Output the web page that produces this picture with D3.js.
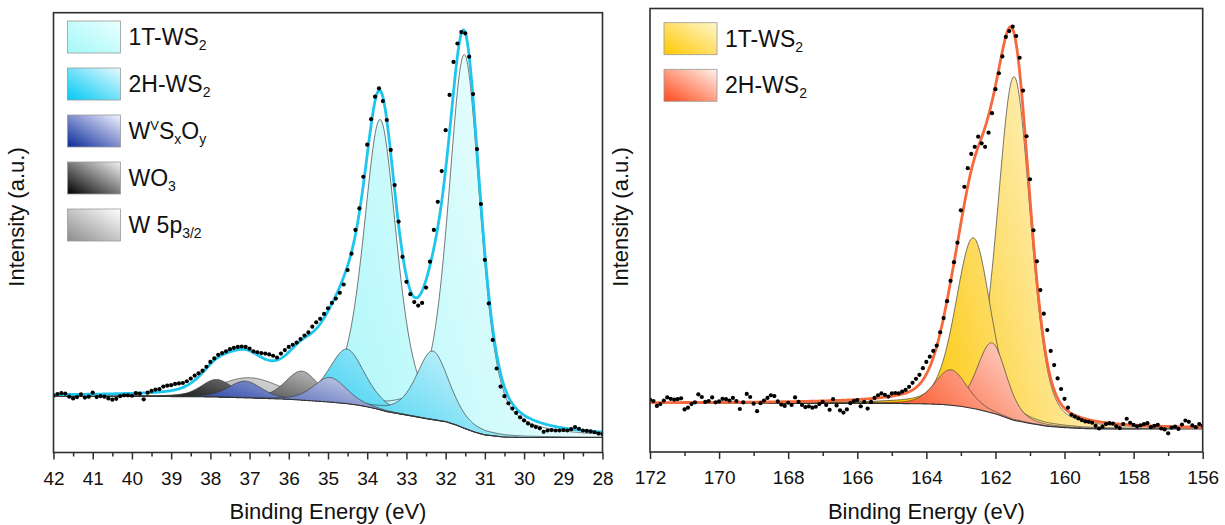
<!DOCTYPE html>
<html><head><meta charset="utf-8">
<script src="https://cdn.jsdelivr.net/npm/d3@7"></script>
<style>
body{margin:0;background:#fff}
svg{display:block}
text{font-family:"Liberation Sans",Arial,Helvetica,sans-serif;fill:#111}
</style>
</head><body>
<svg id="chart" width="1225" height="525"></svg>
<script>
// ---------------- W 4f panel (left) ----------------
const leftEnergy = [42.0,41.9,41.8,41.7,41.6,41.5,41.4,41.3,41.2,41.1,41.0,40.9,40.8,40.7,40.6,40.5,40.4,40.3,40.2,40.1,
40.0,39.9,39.8,39.7,39.6,39.5,39.4,39.3,39.2,39.1,39.0,38.9,38.8,38.7,38.6,38.5,38.4,38.3,38.2,38.1,
38.0,37.9,37.8,37.7,37.6,37.5,37.4,37.3,37.2,37.1,37.0,36.9,36.8,36.7,36.6,36.5,36.4,36.3,36.2,36.1,
36.0,35.9,35.8,35.7,35.6,35.5,35.4,35.3,35.2,35.1,35.0,34.9,34.8,34.7,34.6,34.5,34.4,34.3,34.2,34.1,
34.0,33.9,33.8,33.7,33.6,33.5,33.4,33.3,33.2,33.1,33.0,32.9,32.8,32.7,32.6,32.5,32.4,32.3,32.2,32.1,
32.0,31.9,31.8,31.7,31.6,31.5,31.4,31.3,31.2,31.1,31.0,30.9,30.8,30.7,30.6,30.5,30.4,30.3,30.2,30.1,
30.0,29.9,29.8,29.7,29.6,29.5,29.4,29.3,29.2,29.1,29.0,28.9,28.8,28.7,28.6,28.5,28.4,28.3,28.2,28.1,28.0];
const leftCounts = [12.9,13.3,13.5,13.4,12.7,12.3,12.6,13.2,12.5,12.7,
13.6,12.6,12.8,12.7,12.3,12.0,12.2,12.8,13.0,13.0,
12.9,13.5,13.4,12.1,13.6,14.0,14.3,14.4,15.0,15.2,
15.3,15.6,15.7,15.8,16.2,16.8,17.5,18.0,18.6,19.5,
20.6,21.4,22.2,22.6,23.0,23.5,23.8,24.0,24.1,24.0,
23.6,23.0,22.8,22.6,22.5,22.3,22.0,21.6,22.5,23.3,
24.0,24.5,25.0,25.8,26.6,27.3,28.6,29.6,30.4,31.5,
32.8,34.0,35.0,36.3,38.2,41.5,45.2,50.6,55.5,62.7,
70.0,75.8,80.9,82.8,79.9,75.6,68.8,60.8,52.5,44.5,
38.8,36.0,34.2,33.4,34.0,37.5,43.4,50.6,57.0,64.0,
73.3,81.3,88.8,93.0,95.6,95.3,90.0,81.5,69.0,56.5,
43.8,33.9,25.6,19.1,15.0,12.8,11.2,10.0,9.0,8.0,
7.3,6.6,6.1,5.8,5.5,4.7,5.0,5.1,5.0,5.0,
5.1,5.0,5.3,5.8,5.4,5.0,4.9,4.8,4.6,4.3,4.2];
const leftBgEnergy = [42,40,38,37,36,35.5,35,34.5,34.25,34,33.75,33.5,33,32.5,32,31.75,31.5,31.25,31,30.5,30,28];
const leftBgLevel  = [12.8,12.78,12.65,12.4,12.1,11.8,11.5,11.1,10.8,10.4,9.9,9.3,8.5,7.7,7.0,6.3,5.4,4.6,4.0,3.5,3.4,3.4];
const leftSeries = ["1T-WS2","2H-WS2","WVSxOy","WO3","W 5p3/2"];
const leftCenters = [[33.67,31.52],[34.52,32.33],[37.12,34.95],[37.84,35.67],[37.0]];
const leftHeights = [[66.0,85.0],[12.4,15.6],[3.8,5.6],[4.0,6.6],[4.6]];
const leftFwhm    = [[1.0,0.97],[1.1,1.0],[1.0,1.0],[0.95,1.0],[1.9]];
const leftEta     = [0.5,0.5,0.35,0.35,0.2];
const leftTicks = [42,41,40,39,38,37,36,35,34,33,32,31,30,29,28];
const leftMinor = [41.5,40.5,39.5,38.5,37.5,36.5,35.5,34.5,33.5,32.5,31.5,30.5,29.5,28.5];

// ---------------- S 2p panel (right) ----------------
const rightEnergy = [172.0,171.9,171.8,171.7,171.6,171.5,171.4,171.3,171.2,171.1,
171.0,170.9,170.8,170.7,170.6,170.5,170.4,170.3,170.2,170.1,
170.0,169.9,169.8,169.7,169.6,169.5,169.4,169.3,169.2,169.1,
169.0,168.9,168.8,168.7,168.6,168.5,168.4,168.3,168.2,168.1,
168.0,167.9,167.8,167.7,167.6,167.5,167.4,167.3,167.2,167.1,
167.0,166.9,166.8,166.7,166.6,166.5,166.4,166.3,166.2,166.1,
166.0,165.9,165.8,165.7,165.6,165.5,165.4,165.3,165.2,165.1,
165.0,164.9,164.8,164.7,164.6,164.5,164.4,164.3,164.2,164.1,
164.0,163.9,163.8,163.7,163.6,163.5,163.4,163.3,163.2,163.1,
163.0,162.9,162.8,162.7,162.6,162.5,162.4,162.3,162.2,162.1,
162.0,161.9,161.8,161.7,161.6,161.5,161.4,161.3,161.2,161.1,
161.0,160.9,160.8,160.7,160.6,160.5,160.4,160.3,160.2,160.1,
160.0,159.9,159.8,159.7,159.6,159.5,159.4,159.3,159.2,159.1,
159.0,158.9,158.8,158.7,158.6,158.5,158.4,158.3,158.2,158.1,
158.0,157.9,157.8,157.7,157.6,157.5,157.4,157.3,157.2,157.1,
157.0,156.9,156.8,156.7,156.6,156.5,156.4,156.3,156.2,156.1,156.0];
const rightCounts = [11.8,11.5,10.4,10.8,11.6,12.3,12.0,11.8,11.9,12.1,
9.6,10.0,10.8,11.2,13.0,12.4,11.3,11.5,12.3,11.2,
11.4,12.0,11.9,11.6,12.2,11.5,9.7,11.2,13.1,12.4,
10.9,9.2,11.0,11.6,12.2,12.8,12.6,11.4,10.7,10.4,
11.1,10.6,12.3,11.3,10.6,10.1,10.3,10.0,10.2,10.8,
11.3,10.6,9.5,11.9,10.5,9.4,8.9,9.6,11.0,11.5,
11.7,10.3,11.3,9.8,11.3,12.2,12.8,13.2,12.9,12.5,
13.2,13.3,13.2,13.6,14.0,14.7,15.6,16.5,17.4,18.9,
20.3,21.5,22.8,24.0,27.0,30.2,34.0,38.6,42.8,47.2,
54.5,59.8,64.0,67.2,68.8,71.1,69.6,68.8,72.0,76.4,
81.8,85.4,89.2,93.6,94.9,95.9,93.8,88.9,81.5,71.2,
61.5,50.0,43.0,36.5,31.2,27.5,22.8,19.6,16.6,14.2,
12.0,10.0,8.4,8.0,7.6,7.2,6.9,6.8,6.6,5.9,
5.3,5.7,6.3,6.5,6.4,5.8,5.4,6.3,7.5,6.6,
6.1,5.8,6.0,6.3,6.5,5.6,5.9,6.1,5.3,5.1,
4.2,5.5,5.7,5.2,6.2,7.1,6.8,6.0,5.6,6.3,5.9];
const rightBgEnergy = [172,165,164,163.5,163,162.5,162,161.5,161,160.5,160,159.5,159,156];
const rightBgLevel  = [11.0,10.95,10.85,10.7,10.3,9.6,8.6,7.2,6.45,5.8,5.5,5.3,5.2,5.2];
const rightSeries = ["1T-WS2","2H-WS2"];
const rightCenters = [[161.46,162.64],[162.1,163.29]];
const rightHeights = [[77.5,38.5],[15.8,8.0]];
const rightFwhm    = [[1.12,1.2],[1.0,1.1]];
const rightEta     = [0.3,0.3];
const rightTicks = [172,170,168,166,164,162,160,158,156];
const rightMinor = [171,169,167,165,163,161,159,157];

// ---------------- styling ----------------
const leftColors = ["#a8f7f9","#10c6ee","#0a2a9a","#000000","#909090"];
const rightColors = ["#fcc600","#fb4d1e"];
const legendColorsL = [["#a4f8f8","#eaffff"],["#00c8f2","#e6faff"],["#0a2a9a","#f2f2ff"],["#000000","#f2f2f2"],["#8c8c8c","#ffffff"]];
const legendColorsR = [["#ffc800","#fff6cc"],["#ff4a1a","#fff2ec"]];
const legendPartsL = [
  [["1T-WS",""],["2","sub"]],
  [["2H-WS",""],["2","sub"]],
  [["W",""],["V","sup"],["S",""],["x","sub"],["O",""],["y","sub"]],
  [["WO",""],["3","sub"]],
  [["W 5p",""],["3/2","sub"]]
];
const legendPartsR = [
  [["1T-WS",""],["2","sub"]],
  [["2H-WS",""],["2","sub"]]
];

const svg = d3.select("#chart");
const defs = svg.append("defs");

function pv(E, c, h, w, eta) {
  const d = (E - c) / (w / 2);
  return h * (eta / (1 + d * d) + (1 - eta) * Math.exp(-Math.LN2 * d * d));
}

function boxGrad(id, c0, c1) {
  const g = defs.append("linearGradient").attr("id", id)
    .attr("x1", 0).attr("y1", 1).attr("x2", 1).attr("y2", 0);
  g.append("stop").attr("offset", 0).attr("stop-color", c0);
  g.append("stop").attr("offset", 1).attr("stop-color", c1);
}

function drawPanel(p) {
  const g = svg.append("g");
  const x = d3.scaleLinear().domain(p.xDomain).range([p.left, p.right]);
  const y = d3.scaleLinear().domain([0, 100]).range([p.bottom, p.top]);
  const bg = d3.scaleLinear().domain(p.bgE).range(p.bgV).clamp(true);
  const grid = d3.range(p.xDomain[0], p.xDomain[1] - 1e-6, -0.02);

  const clipId = "clip-" + p.id;
  defs.append("clipPath").attr("id", clipId).append("rect")
    .attr("x", p.left).attr("y", p.top).attr("width", p.right - p.left).attr("height", p.bottom - p.top);
  const plot = g.append("g").attr("clip-path", `url(#${clipId})`);

  // one gradient per series, spread over the union of that series' peaks
  const wu = 0.65, wv = 0.35;
  p.order.forEach(si => {
    let x0 = Infinity, x1 = -Infinity, yT = Infinity, yB = -Infinity;
    p.centers[si].forEach((c, k) => {
      const h = p.heights[si][k], w = p.fwhm[si][k], eta = p.eta[si];
      grid.forEach(e => {
        const v = pv(e, c, h, w, eta);
        if (v > 0.04 * h) {
          const px = x(e);
          x0 = Math.min(x0, px); x1 = Math.max(x1, px);
          yT = Math.min(yT, y(bg(e) + v)); yB = Math.max(yB, y(bg(e)));
        }
      });
    });
    const W = x1 - x0, H = yB - yT;
    const ax = wu / W, ay = -wv / H, n2 = ax * ax + ay * ay;
    const gid = `g-${p.id}-${si}`;
    const lg = defs.append("linearGradient").attr("id", gid).attr("gradientUnits", "userSpaceOnUse")
      .attr("x1", x0).attr("y1", yB).attr("x2", x0 + ax / n2).attr("y2", yB + ay / n2);
    lg.append("stop").attr("offset", 0).attr("stop-color", p.colors[si]);
    lg.append("stop").attr("offset", 1).attr("stop-color", d3.interpolateRgb(p.colors[si], "#ffffff")(0.85));

    p.centers[si].forEach((c, k) => {
      const h = p.heights[si][k], w = p.fwhm[si][k], eta = p.eta[si];
      const pts = grid.filter(e => Math.abs(e - c) <= w * 5);
      const area = d3.area().x(e => x(e)).y0(e => y(bg(e))).y1(e => y(bg(e) + pv(e, c, h, w, eta)));
      plot.append("path").attr("d", area(pts)).attr("fill", `url(#${gid})`);
      const top = d3.line().x(e => x(e)).y(e => y(bg(e) + pv(e, c, h, w, eta)));
      plot.append("path").attr("d", top(pts)).attr("fill", "none")
        .attr("stroke", "#3a3a3a").attr("stroke-width", 0.8).attr("stroke-opacity", 0.85);
    });
  });
  // background
  plot.append("path").attr("d", d3.line().x(e => x(e)).y(e => y(bg(e)))(grid))
    .attr("fill", "none").attr("stroke", "#333").attr("stroke-width", 1.1);
  // envelope
  const env = e => {
    let s = bg(e);
    p.centers.forEach((cs, si) => cs.forEach((c, k) => { s += pv(e, c, p.heights[si][k], p.fwhm[si][k], p.eta[si]); }));
    return s;
  };
  plot.append("path").attr("d", d3.line().x(e => x(e)).y(e => y(env(e)))(grid))
    .attr("fill", "none").attr("stroke", p.envColor).attr("stroke-width", 2.8).attr("stroke-linejoin", "round");
  // data points
  plot.append("g").selectAll("circle").data(p.energy.map((e, i) => [e, p.counts[i]])).join("circle")
    .attr("cx", d => x(d[0])).attr("cy", d => y(d[1])).attr("r", 2.1).attr("fill", "#000");

  // frame
  g.append("rect").attr("x", p.left).attr("y", p.top).attr("width", p.right - p.left).attr("height", p.bottom - p.top)
    .attr("fill", "none").attr("stroke", "#2e2e2e").attr("stroke-width", 1.6);

  // axes
  const axG = g.append("g").attr("transform", `translate(0,${p.bottom})`)
    .call(d3.axisBottom(x).tickValues(p.ticks).tickSize(7).tickSizeOuter(0).tickPadding(12).tickFormat(d3.format("d")));
  axG.select(".domain").remove();
  axG.selectAll("line").attr("stroke", "#2e2e2e").attr("stroke-width", 1.5);
  axG.selectAll("text").attr("font-size", 19).attr("fill", "#111")
    .style("font-family", '"Liberation Sans",Arial,sans-serif');
  const mx = g.append("g").attr("transform", `translate(0,${p.bottom})`)
    .call(d3.axisBottom(x).tickValues(p.minor).tickSize(4).tickSizeOuter(0).tickFormat(""));
  mx.select(".domain").remove();
  mx.selectAll("line").attr("stroke", "#2e2e2e").attr("stroke-width", 1.5);

  g.append("text").attr("x", (p.left + p.right) / 2).attr("y", 519).attr("text-anchor", "middle")
    .attr("font-size", 22).text("Binding Energy (eV)");
  g.append("text").attr("transform", `translate(${p.ylabX},217) rotate(-90)`).attr("text-anchor", "middle")
    .attr("font-size", 22).text("Intensity (a.u.)");

  // legend
  p.legendParts.forEach((parts, i) => {
    const top = p.legTop + i * p.legStep;
    const gid = `lg-${p.id}-${i}`;
    boxGrad(gid, p.legendColors[i][0], p.legendColors[i][1]);
    g.append("rect").attr("x", p.legX).attr("y", top).attr("width", 53).attr("height", 32)
      .attr("fill", `url(#${gid})`).attr("stroke", "#9a9a9a").attr("stroke-width", 0.8);
    const t = g.append("text").attr("x", p.legX + 61).attr("y", top + 24).attr("font-size", 23);
    let off = 0;
    parts.forEach(([s, kind]) => {
      let target = 0, fs = 23;
      if (kind === "sub") { target = 5; fs = 14; }
      if (kind === "sup") { target = -9; fs = 13; }
      t.append("tspan").attr("dy", target - off).attr("font-size", fs).text(s);
      off = target;
    });
  });
}

drawPanel({
  id: "L", xDomain: [42, 28], left: 53.5, right: 602.5, top: 12.7, bottom: 452.5,
  energy: leftEnergy, counts: leftCounts, bgE: leftBgEnergy, bgV: leftBgLevel,
  centers: leftCenters, heights: leftHeights, fwhm: leftFwhm, eta: leftEta,
  order: [4, 0, 1, 3, 2], colors: leftColors, envColor: "#1ec6ee",
  ticks: leftTicks, minor: leftMinor, ylabX: 24,
  legendParts: legendPartsL, legendColors: legendColorsL, legX: 67.5, legTop: 21, legStep: 47
});
drawPanel({
  id: "R", xDomain: [172, 156], left: 650, right: 1202.7, top: 8.5, bottom: 452,
  energy: rightEnergy, counts: rightCounts, bgE: rightBgEnergy, bgV: rightBgLevel,
  centers: rightCenters, heights: rightHeights, fwhm: rightFwhm, eta: rightEta,
  order: [0, 1], colors: rightColors, envColor: "#f5693c",
  ticks: rightTicks, minor: rightMinor, ylabX: 628,
  legendParts: legendPartsR, legendColors: legendColorsR, legX: 664, legTop: 22.7, legStep: 46.6
});
</script>
</body></html>
